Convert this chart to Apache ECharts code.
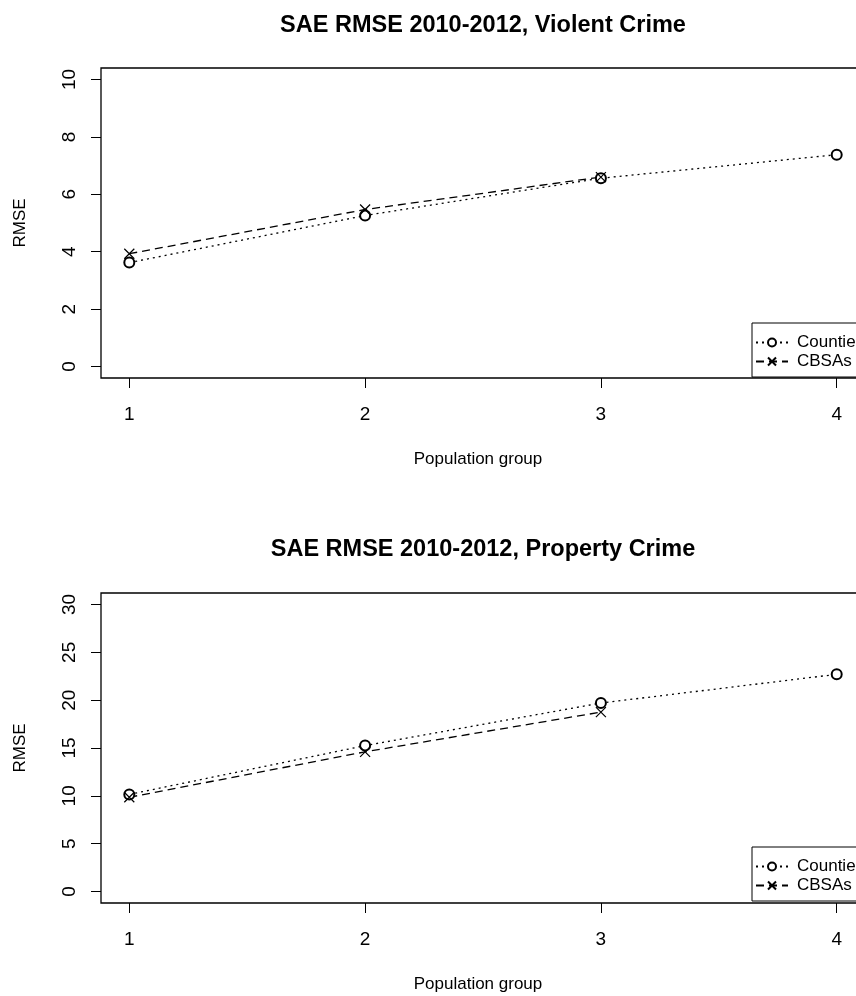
<!DOCTYPE html>
<html>
<head>
<meta charset="utf-8">
<script src="https://cdn.jsdelivr.net/npm/echarts@6/dist/echarts.min.js"></script>
<style>html,body{margin:0;padding:0;background:#fff;overflow:hidden;}#c{width:900px;height:996px;}</style>
</head>
<body>
<div id="c"></div>
<script>
// ---- data ----
var groups = [1, 2, 3, 4];
var violentCounties = [3.62, 5.26, 6.56, 7.38];
var violentCBSAs = [3.93, 5.47, 6.60];
var propertyCounties = [10.15, 15.25, 19.7, 22.7];
var propertyCBSAs = [9.85, 14.6, 18.75];
var violentTicks = [0, 2, 4, 6, 8, 10];
var propertyTicks = [0, 5, 10, 15, 20, 25, 30];
var titles = ['SAE RMSE 2010-2012, Violent Crime', 'SAE RMSE 2010-2012, Property Crime'];
var seriesNames = ['Counties', 'CBSAs'];

function pairs(vals) { return vals.map(function (v, i) { return [groups[i], v]; }); }

var FONT = '"Liberation Sans", Arial, sans-serif';
var crossPath = 'path://M0,0L10,10M10,0L0,10';

function xAx(gi) {
  return {
    type: 'value', gridIndex: gi, min: 0.88, max: 4.12,
    name: 'Population group', nameLocation: 'middle', nameGap: 73,
    nameTextStyle: { fontFamily: FONT, fontSize: 17, color: '#000', padding: [0, 10, 0, 0] },
    axisLine: { show: false, onZero: false },
    splitLine: { show: false },
    axisTick: { show: true, length: 10, inside: false, customValues: groups, lineStyle: { color: '#000', width: 1 } },
    axisLabel: { customValues: groups, margin: 27, fontFamily: FONT, fontSize: 19, color: '#000' }
  };
}
function yAx(gi, lo, hi, ticks) {
  return {
    type: 'value', gridIndex: gi, min: lo, max: hi,
    name: 'RMSE', nameLocation: 'middle', nameGap: 72, nameRotate: 90,
    nameTextStyle: { fontFamily: FONT, fontSize: 17, color: '#000' },
    axisLine: { show: false, onZero: false },
    splitLine: { show: false },
    axisTick: { show: true, length: 10, inside: false, customValues: ticks, lineStyle: { color: '#000', width: 1 } },
    axisLabel: { customValues: ticks, rotate: 90, margin: 22, fontFamily: FONT, fontSize: 19, color: '#000' }
  };
}
function countySeries(gi, vals) {
  return {
    name: 'Counties', type: 'line', xAxisIndex: gi, yAxisIndex: gi,
    data: pairs(vals), symbol: 'emptyCircle', symbolSize: 10,
    lineStyle: { color: '#000', width: 1.3, type: [2, 4] },
    itemStyle: { color: '#000', borderColor: '#000', borderWidth: 1.1 },
    emphasis: { disabled: true }, animation: false
  };
}
function cbsaSeries(gi, vals) {
  return {
    name: 'CBSAs', type: 'line', xAxisIndex: gi, yAxisIndex: gi,
    data: pairs(vals), symbol: crossPath, symbolSize: 10,
    lineStyle: { color: '#000', width: 1.3, type: [8, 5] },
    itemStyle: { color: 'rgba(0,0,0,0)', borderColor: '#000', borderWidth: 1.2 },
    emphasis: { disabled: true }, animation: false
  };
}
function legend(top) {
  return {
    data: seriesNames, orient: 'vertical', left: 752, top: top,
    padding: [11, 40, 7, 3], itemGap: 2, itemWidth: 32, itemHeight: 10,
    borderColor: '#000', borderWidth: 1, borderRadius: 0,
    textStyle: { fontFamily: FONT, fontSize: 17, color: '#000', padding: [0, 0, 0, 4] },
    selectedMode: false
  };
}

var option = {
  animation: false,
  backgroundColor: '#fff',
  title: [
    { text: titles[0], left: 478, top: 9, textAlign: 'center', textStyle: { fontFamily: FONT, fontSize: 23.5, fontWeight: 'bold', color: '#000' } },
    { text: titles[1], left: 478, top: 533, textAlign: 'center', textStyle: { fontFamily: FONT, fontSize: 23.5, fontWeight: 'bold', color: '#000' } }
  ],
  grid: [
    { left: 101, top: 68, width: 764, height: 310, show: true, borderColor: '#000', borderWidth: 1.3, backgroundColor: 'transparent' },
    { left: 101, top: 593, width: 764, height: 310, show: true, borderColor: '#000', borderWidth: 1.3, backgroundColor: 'transparent' }
  ],
  xAxis: [xAx(0), xAx(1)],
  yAxis: [yAx(0, -0.4, 10.4, violentTicks), yAx(1, -1.2, 31.2, propertyTicks)],
  legend: [legend(323), legend(847)],
  series: [
    countySeries(0, violentCounties), cbsaSeries(0, violentCBSAs),
    countySeries(1, propertyCounties), cbsaSeries(1, propertyCBSAs)
  ]
};
var chart = echarts.init(document.getElementById('c'), null, { renderer: 'canvas' });
chart.setOption(option);
</script>
</body>
</html>
